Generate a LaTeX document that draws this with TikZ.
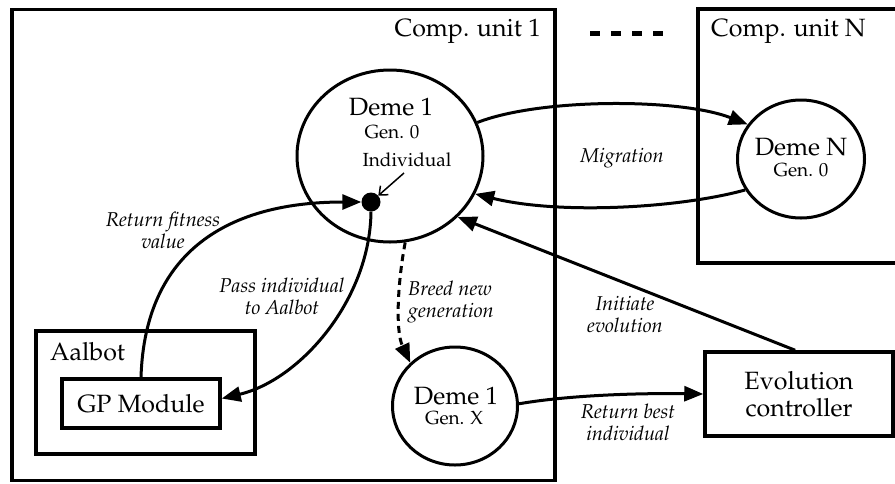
\documentclass[tikz,border=0pt]{standalone}
\usepackage[T1]{fontenc}
\renewcommand{\rmdefault}{ppl}
\usetikzlibrary{arrows.meta,shapes.geometric,calc}
\newcommand\bigfnt{\fontsize{25}{27}\selectfont}
\newcommand\smallfnt{\fontsize{19}{21}\selectfont}
\newcommand\labfnt{\fontsize{20}{22}\selectfont\itshape}
\tikzset{
  frame/.style={draw, rectangle, line width=3.5pt, inner sep=0pt},
  deme/.style={draw, ellipse, line width=3pt, inner sep=0pt},
  flow/.style={line width=3pt, -{Triangle[length=19pt,width=15pt]}},
  breed/.style={flow, dash pattern=on 7pt off 5pt},
  big/.style={font=\bigfnt, inner sep=0pt, align=center},
  small/.style={font=\smallfnt, inner sep=0pt},
  lab/.style={font=\labfnt, inner sep=0pt, align=center}
}
\begin{document}
\begin{tikzpicture}[x=1pt,y=-1pt]
\useasboundingbox (0,0) rectangle (895,483);

% computation units
\node[frame, minimum width=543pt, minimum height=471pt] (cu1) at (283.5,245) {};
\node[frame, minimum width=220pt, minimum height=254pt] (cuN) at (808,136) {};
\node[big, anchor=east] (cu1t) at (541,31) {Comp. unit 1};
\node[big, anchor=west] (cuNt) at (711,31) {Comp. unit N};
% the "more units" ellipsis: four short bars
\foreach \i in {0,1,2,3}
  \draw[line width=5pt] (590+21*\i,33) -- +(10,0);

% demes
\node[deme, minimum width=186pt, minimum height=172pt] (deme1) at (390,156) {};
\node[big] (deme1t) at (391,107) {Deme 1};
\node[small] (deme1g) at (392,132) {Gen. 0};
\node[small] (indt) at (407,160) {Individual};
\node[circle, fill, minimum size=19pt, inner sep=0pt] (ind) at (371,202) {};
\coordinate (indp) at (404,173);
\draw[line width=1.5pt, -{Straight Barb[length=7pt,width=12pt]}] (indp) -- (ind);

\node[deme, minimum width=127pt, minimum height=118pt] (demeN) at (801,159) {};
\node[big] (demeNt) at (801,147) {Deme N};
\node[small] (demeNg) at (801,170) {Gen. 0};

\node[deme, minimum width=125pt, minimum height=118pt] (demeX) at (455,406) {};
\node[big] (demeXt) at (456,396) {Deme 1};
\node[small] (demeXg) at (454,418) {Gen. X};

% Aalbot and controller
\node[frame, minimum width=219pt, minimum height=123pt] (aalbot) at (145.5,392.5) {};
\node[big, anchor=west] (aalbott) at (50,352) {Aalbot};
\node[frame, minimum width=158pt, minimum height=49pt, font=\bigfnt] (gp) at (141,403.5) {GP Module};
\node[frame, minimum width=188pt, minimum height=84pt, font=\bigfnt, align=center] (evo) at (799,394) {Evolution\\controller};

% connectors
\draw[flow] (deme1.21) .. controls (540,98) and (680,98) .. (demeN.147);
\draw[flow] (demeN.209) .. controls (680,208) and (560,215) .. (deme1.-24);
\node[lab] (migt) at (622,158) {Migration};

\coordinate (evotop) at ($(evo.north west)!0.48!(evo.north east)$);
\draw[flow] (evotop) -- (deme1.-42);
\node[lab] (initt) at (625,314) {Initiate\\evolution};

\draw[breed] (deme1.-80) .. controls (398,280) and (395,330) .. (demeX.136);
\node[lab, anchor=west, align=left] (breedt) at (408,302) {Breed new\\generation};

\draw[flow] (demeX.2) .. controls (570,395) and (640,393) .. (evo.west);
\node[lab] (bestt) at (628,422) {Return best\\individual};

\draw[flow] (gp.north) .. controls (145,250) and (230,202) .. (ind.west);
\node[lab] (fitt) at (163,230) {Return fitness\\value};

\draw[flow] (ind.south) .. controls (370,300) and (300,380) .. ($(gp.east)+(0,-5)$);
\node[lab] (passt) at (282,296) {Pass individual\\to Aalbot};
\end{tikzpicture}
\end{document}
